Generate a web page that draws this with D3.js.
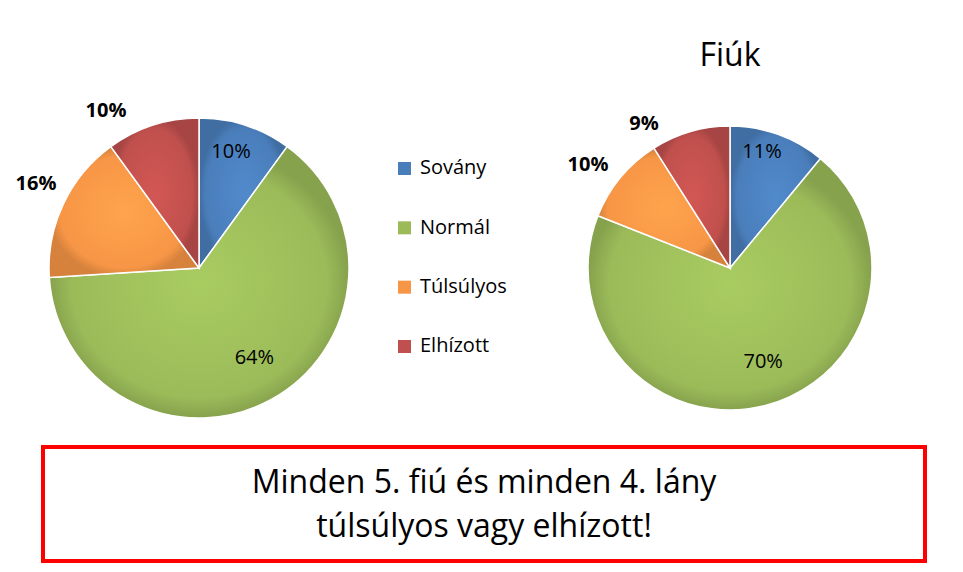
<!DOCTYPE html>
<html><head><meta charset="utf-8">
<script src="https://cdn.jsdelivr.net/npm/d3@7"></script>
<style>body{margin:0;background:#fff}text{font-family:"Open Sans",sans-serif}</style>
</head><body><svg width="963" height="572"></svg>
<script>
const categories = ["Sovány", "Normál", "Túlsúlyos", "Elhízott"];
const colors = ["#4a7ebb", "#9bbb59", "#f79646", "#c0504d"];
const girls = [10, 64, 16, 10];
const boys = [11, 70, 10, 9];
const titles = ["", "Fiúk"];
const message = ["Minden 5. fiú és minden 4. lány", "túlsúlyos vagy elhízott!"];

const svg = d3.select("svg");
const defs = svg.append("defs");
colors.forEach((c, i) => {
  const g = defs.append("radialGradient").attr("id", `grad-${i}`)
    .attr("cx", "50%").attr("cy", "50%").attr("r", "50%");
  g.append("stop").attr("offset", "0%").attr("stop-color", d3.color(c).brighter(0.25));
  g.append("stop").attr("offset", "85%").attr("stop-color", c);
  g.append("stop").attr("offset", "100%").attr("stop-color", d3.color(c).darker(0.4));
});

const pie = d3.pie().sort(null);
const charts = [
  {data: girls, cx: 199, cy: 268, r: 150, outer: [null, null, [36, 185], [106, 112]]},
  {data: boys, cx: 730, cy: 268, r: 142, outer: [null, null, [588, 166], [644, 125]]}
];

charts.forEach((ch, k) => {
  const g = svg.append("g").attr("transform", `translate(${ch.cx},${ch.cy})`);
  const arc = d3.arc().innerRadius(0).outerRadius(ch.r);
  const arcs = pie(ch.data);
  g.selectAll("path").data(arcs).join("path")
    .attr("d", arc)
    .attr("fill", (d, i) => `url(#grad-${i})`)
    .attr("stroke", "#fff").attr("stroke-width", 1.5);
  arcs.forEach((d, i) => {
    if (ch.outer[i]) {
      svg.append("text").attr("x", ch.outer[i][0]).attr("y", ch.outer[i][1])
        .attr("text-anchor", "middle").attr("font-size", 20).attr("font-weight", "bold")
        .attr("dominant-baseline", "middle").text(d.data + "%");
    } else {
      const [x, y] = d3.arc().innerRadius(ch.r * 0.6).outerRadius(ch.r * 0.6).centroid(d);
      const p = i === 0 ? [x + 2, y - 35] : [x + 12, y + 12];
      g.append("text").attr("x", i === 0 ? 32 : p[0]).attr("y", i === 0 ? -115 : p[1])
        .attr("text-anchor", "middle").attr("font-size", 20)
        .attr("dominant-baseline", "middle").text(d.data + "%");
    }
  });
  if (titles[k]) svg.append("text").attr("x", ch.cx).attr("y", 57)
    .attr("text-anchor", "middle").attr("dominant-baseline", "middle")
    .attr("font-size", 32).text(titles[k]);
});

const ly = d3.scalePoint().domain(categories).range([168, 346]);
const leg = svg.append("g").selectAll("g").data(categories).join("g")
  .attr("transform", d => `translate(398,${ly(d)})`);
leg.append("rect").attr("x", 0).attr("y", -6).attr("width", 13).attr("height", 13)
  .attr("fill", (d, i) => colors[i]);
leg.append("text").attr("x", 22).attr("y", 1).attr("dominant-baseline", "middle")
  .attr("font-size", 20).text(d => d);

svg.append("rect").attr("x", 43).attr("y", 447).attr("width", 882).attr("height", 114)
  .attr("fill", "none").attr("stroke", "#f00").attr("stroke-width", 4);
svg.selectAll(".msg").data(message).join("text").attr("class", "msg")
  .attr("x", 484).attr("y", (d, i) => 484 + i * 44)
  .attr("text-anchor", "middle").attr("dominant-baseline", "middle")
  .attr("font-size", 32).text(d => d);
</script></body></html>
